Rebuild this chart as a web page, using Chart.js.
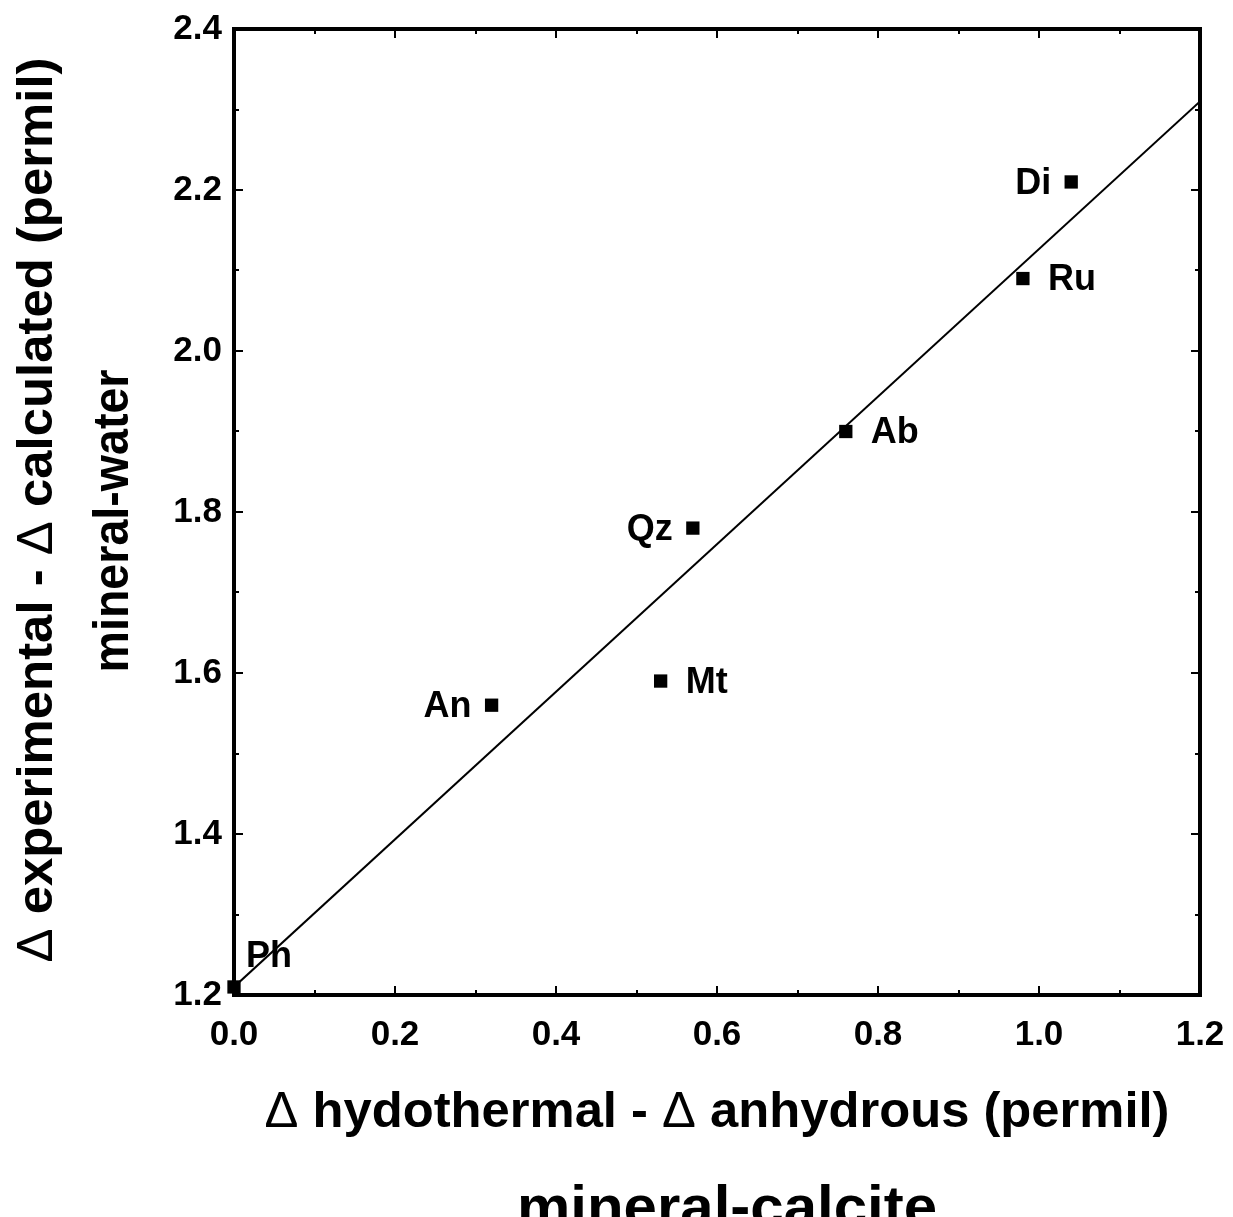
<!DOCTYPE html>
<html>
<head>
<meta charset="utf-8">
<script src="https://cdn.jsdelivr.net/npm/chart.js@4"></script>
<style>
  html, body { margin: 0; padding: 0; background: #fff; }
  canvas { display: block; }
</style>
</head>
<body>
<canvas id="chart" width="1233" height="1217"></canvas>
<script>
// mineral data: hydrothermal - anhydrous vs experimental - calculated
const minerals = ['Ph', 'An', 'Mt', 'Qz', 'Ab', 'Ru', 'Di'];
const hydroMinusAnhydrous = [0.0, 0.32, 0.53, 0.57, 0.76, 0.98, 1.04];
const expMinusCalc = [1.21, 1.56, 1.59, 1.78, 1.90, 2.09, 2.21];
const labelSide = ['above', 'left', 'right', 'left', 'right', 'right', 'left'];

// fitted line end points
const fitX = [0.0, 1.2];
const fitY = [1.21, 2.31];

const xTicks = [0.0, 0.2, 0.4, 0.6, 0.8, 1.0, 1.2];
const yTicks = [1.2, 1.4, 1.6, 1.8, 2.0, 2.2, 2.4];

const FONT = '"Liberation Sans", Arial, Helvetica, sans-serif';

// draws a title made of mixed-weight pieces, squeezed to a given width
function drawTitle(ctx, parts, cx, baseY, width, size, angle) {
    ctx.save();
    ctx.translate(cx, baseY);
    ctx.rotate(angle);
    let total = 0;
    const widths = parts.map(p => {
        ctx.font = `${p.w} ${size}px ${FONT}`;
        const w = ctx.measureText(p.t).width;
        total += w;
        return w;
    });
    ctx.scale(width / total, 1);
    ctx.fillStyle = '#000';
    ctx.textAlign = 'left';
    ctx.textBaseline = 'alphabetic';
    let x = -total / 2;
    parts.forEach((p, i) => {
        ctx.font = `${p.w} ${size}px ${FONT}`;
        ctx.fillText(p.t, x, 0);
        x += widths[i];
    });
    ctx.restore();
}

const framePlugin = {
    id: 'frame',
    afterDraw(chart) {
        const { ctx, chartArea: a, scales } = chart;
        const xs = scales.x, ys = scales.y;

        // box
        ctx.save();
        ctx.strokeStyle = '#000';
        ctx.lineWidth = 4;
        ctx.strokeRect(a.left, a.top, a.right - a.left, a.bottom - a.top);

        // inward ticks on all four sides, major every 0.2, minor every 0.1
        ctx.lineWidth = 2;
        ctx.beginPath();
        for (let i = 1; i < 12; i++) {
            const len = i % 2 === 0 ? 9 : 5;
            const px = Math.round(xs.getPixelForValue(i / 10));
            ctx.moveTo(px, a.bottom); ctx.lineTo(px, a.bottom - len);
            ctx.moveTo(px, a.top); ctx.lineTo(px, a.top + len);
            const py = Math.round(ys.getPixelForValue(1.2 + i / 10));
            ctx.moveTo(a.left, py); ctx.lineTo(a.left + len, py);
            ctx.moveTo(a.right, py); ctx.lineTo(a.right - len, py);
        }
        ctx.stroke();

        // mineral labels next to each marker
        ctx.fillStyle = '#000';
        ctx.font = `bold 36px ${FONT}`;
        ctx.textBaseline = 'middle';
        minerals.forEach((name, i) => {
            const px = xs.getPixelForValue(hydroMinusAnhydrous[i]);
            const py = ys.getPixelForValue(expMinusCalc[i]);
            if (labelSide[i] === 'left') {
                ctx.textAlign = 'right';
                ctx.fillText(name, px - 20, py + 2);
            } else if (labelSide[i] === 'right') {
                ctx.textAlign = 'left';
                ctx.fillText(name, px + 25, py + 2);
            } else {
                ctx.textAlign = 'left';
                ctx.fillText(name, px + 12, py - 30);
            }
        });
        ctx.restore();

        // axis titles
        drawTitle(ctx, [
            { t: '\u0394 ', w: 'normal' },
            { t: 'hydothermal - ', w: 'bold' },
            { t: '\u0394 ', w: 'normal' },
            { t: 'anhydrous (permil)', w: 'bold' }
        ], 717, 1127, 905, 50, 0);
        drawTitle(ctx, [{ t: 'mineral-calcite', w: 'bold' }], 727, 1226, 420, 58, 0);

        drawTitle(ctx, [
            { t: '\u0394 ', w: 'normal' },
            { t: 'experimental - ', w: 'bold' },
            { t: '\u0394 ', w: 'normal' },
            { t: 'calculated (permil)', w: 'bold' }
        ], 52, 510, 905, 50, -Math.PI / 2);
        drawTitle(ctx, [{ t: 'mineral-water', w: 'bold' }], 128, 521, 303, 50, -Math.PI / 2);
    }
};

const tickFont = { family: FONT, size: 35, weight: 'bold' };

new Chart(document.getElementById('chart'), {
    type: 'scatter',
    data: {
        datasets: [{
            label: 'fit',
            type: 'line',
            data: fitX.map((x, i) => ({ x, y: fitY[i] })),
            borderColor: '#000',
            borderWidth: 2,
            pointRadius: 0,
            fill: false,
            tension: 0
        }, {
            label: 'minerals',
            data: hydroMinusAnhydrous.map((x, i) => ({ x, y: expMinusCalc[i] })),
            pointStyle: 'rect',
            pointRadius: 9.4,
            backgroundColor: '#000',
            borderColor: '#000',
            borderWidth: 0,
            clip: false
        }]
    },
    options: {
        responsive: false,
        animation: false,
        events: [],
        layout: { padding: { top: 29, right: 33, left: 0, bottom: 0 } },
        plugins: {
            legend: { display: false },
            tooltip: { enabled: false }
        },
        scales: {
            x: {
                type: 'linear',
                min: 0,
                max: 1.2,
                afterFit: s => { s.height = 222; s.paddingLeft = 0; s.paddingRight = 0; },
                afterBuildTicks: s => { s.ticks = xTicks.map(v => ({ value: v })); },
                grid: { display: false, drawTicks: false },
                border: { display: false },
                ticks: {
                    padding: 19,
                    color: '#000',
                    font: tickFont,
                    maxRotation: 0,
                    callback: v => v.toFixed(1)
                }
            },
            y: {
                type: 'linear',
                min: 1.2,
                max: 2.4,
                afterFit: s => { s.width = 234; s.paddingTop = 0; s.paddingBottom = 0; },
                afterBuildTicks: s => { s.ticks = yTicks.map(v => ({ value: v })); },
                grid: { display: false, drawTicks: false },
                border: { display: false },
                ticks: {
                    padding: 12,
                    color: '#000',
                    font: tickFont,
                    callback: v => v.toFixed(1)
                }
            }
        }
    },
    plugins: [framePlugin]
});
</script>
</body>
</html>
